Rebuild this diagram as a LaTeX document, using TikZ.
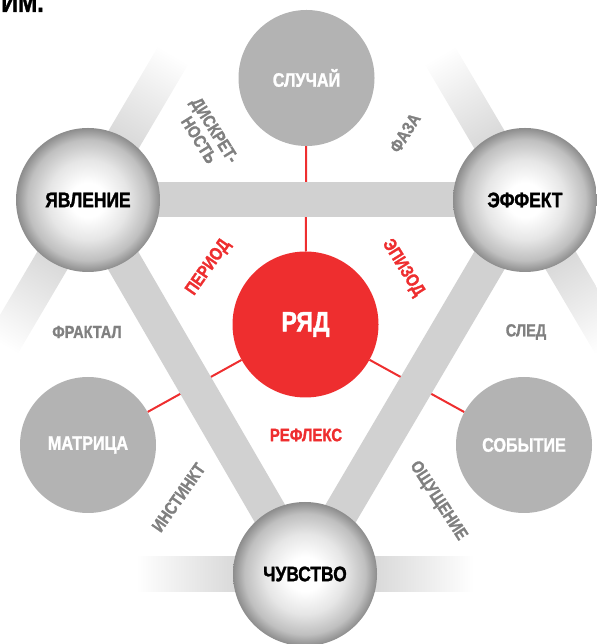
\documentclass[tikz,border=0pt]{standalone}
\usepackage{fontspec}
\setmainfont{Liberation Sans}[FakeStretch=0.83,BoldFeatures={FakeBold=1.3}]
\usepackage{tikz}
\usetikzlibrary{positioning}
\definecolor{barc}{HTML}{D1D1D1}
\definecolor{diskc}{HTML}{B3B3B3}
\definecolor{ryadc}{HTML}{EE2E2F}
\definecolor{labc}{HTML}{808080}
\pgfdeclareradialshading{sphereshade}{\pgfpoint{0bp}{0bp}}{color(0bp)=(white); color(6bp)=(white); color(14bp)=(black!10); color(21bp)=(black!25); color(25bp)=(black!45); color(50bp)=(black!45)}
\pgfdeclarehorizontalshading{fadeshade}{100bp}{color(0bp)=(barc!90!white); color(25bp)=(barc!90!white); color(45bp)=(barc!40!white); color(60bp)=(white); color(100bp)=(white)}
\pgfdeclarelayer{redl}
\pgfdeclarelayer{bars}
\pgfsetlayers{redl,bars,main}
\newcommand{\fs}[1]{\fontsize{#1}{#1}\selectfont\bfseries}

\begin{document}
\begin{tikzpicture}[x=1pt,y=1pt,
  sphere/.style={circle,minimum size=144pt,inner sep=0pt,shade,shading=sphereshade,font=\fs{21}},
  graydisk/.style={circle,minimum size=136pt,inner sep=0pt,fill=diskc,text=white,font=\fs{19.5}},
  reddisk/.style={circle,minimum size=146pt,inner sep=0pt,fill=ryadc,text=white,font=\fs{28}},
  bar/.style={barc,line width=35pt},
  redline/.style={ryadc,line width=2pt},
  bartext/.style={inner sep=0pt,font=\fs{16}},
  graylab/.style={inner sep=0pt,text=labc,font=\fs{17.5}},
  redlab/.style={inner sep=0pt,text=ryadc,font=\fs{18}},
  fadebar/.style={shading=fadeshade,draw=none}]
\useasboundingbox (0,0) rectangle (596,644);

\node[sphere] (yav) at (88,444) {ЯВЛЕНИЕ};
\node[sphere] (eff) at (525,444) {ЭФФЕКТ};
\node[sphere] (chuv) at (305,70) {ЧУВСТВО};
\node[graydisk] (sluch) at (306.5,566) {СЛУЧАЙ};
\node[graydisk] (matr) at (88,199) {МАТРИЦА};
\node[graydisk] (sob) at (524,199) {СОБЫТИЕ};
\node[reddisk] (ryad) at (305.5,319.5) {РЯД};

\node[anchor=base east,inner sep=0pt,font=\fs{28}] (im) at (44,632) {ИМ.};

\node[graylab,rotate=-58,align=center] (diskr) at (207,509) {ДИСКРЕТ-\\[1pt]НОСТЬ};
\node[graylab,rotate=58] (faza) at (405,511) {ФАЗА};
\node[graylab] (frakt) at (87,312) {ФРАКТАЛ};
\node[graylab] (sled) at (526,312) {СЛЕД};
\node[graylab,rotate=55] (instinkt) at (178.5,146.5) {ИНСТИНКТ};
\node[graylab,rotate=-57] (oshch) at (438,143) {ОЩУЩЕНИЕ};
\node[redlab,rotate=55] (period) at (208.5,376.5) {ПЕРИОД};
\node[redlab,rotate=-58] (epizod) at (403,376) {ЭПИЗОД};
\node[redlab] (refleks) at (306,209) {РЕФЛЕКС};

\begin{pgfonlayer}{redl}
\draw[redline] (ryad) -- (sluch);
\draw[redline] (ryad) -- (matr);
\draw[redline] (ryad) -- (sob);
\end{pgfonlayer}

\begin{pgfonlayer}{bars}
\foreach \n/\a in {yav/59.5,yav/239.5,eff/120.5,eff/300.5,chuv/0,chuv/180}
  \shade[fadebar,transform canvas={shift={(\n.center)},rotate=\a}] (60,-17.5) rectangle (215,17.5);
\draw[bar] (yav.center) -- (eff.center) node[bartext,midway] (chered) {ЧЕРЕДОВАНИЕ};
\draw[bar] (yav.center) -- (chuv.center) node[bartext,midway,sloped] (otrazh) {ОТРАЖЕНИЕ};
\draw[bar] (eff.center) -- (chuv.center) node[bartext,midway,sloped] (vospr) {ВОСПРИЯТИЕ};
\end{pgfonlayer}
\end{tikzpicture}
\end{document}
